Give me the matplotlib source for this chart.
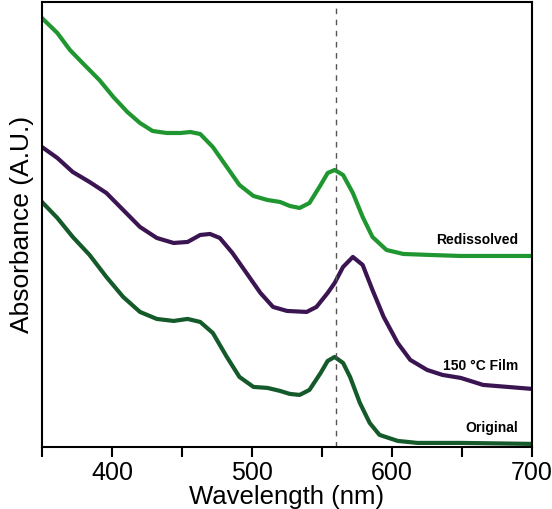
import numpy as np
import matplotlib
matplotlib.use("Agg")
import matplotlib.pyplot as plt
from matplotlib.ticker import MultipleLocator

plt.rcParams['font.family'] = ['Liberation Sans', 'DejaVu Sans']

# Redissolved spectrum (offset, a.u.)
wl_redis = [350, 361, 370, 379, 391, 401, 411, 420, 429, 439, 449, 456, 463, 472, 482,
            491, 501, 511, 520, 527, 534, 541, 549, 554, 559, 565, 572, 579, 586, 596,
            608, 627, 649, 700]
abs_redis = [4.29, 4.14, 3.97, 3.84, 3.67, 3.50, 3.35, 3.24, 3.16, 3.14, 3.14, 3.15,
             3.13, 3.00, 2.80, 2.62, 2.51, 2.47, 2.45, 2.41, 2.39, 2.44, 2.62, 2.74,
             2.77, 2.72, 2.54, 2.30, 2.10, 1.97, 1.93, 1.92, 1.91, 1.91]

# 150 °C film spectrum
wl_film = [350, 361, 372, 384, 396, 408, 420, 432, 444, 454, 463, 470, 477, 486, 496,
           506, 515, 525, 539, 546, 554, 559, 565, 572, 579, 586, 594, 604, 613, 625,
           636, 649, 665, 700]
abs_film = [3.00, 2.89, 2.75, 2.65, 2.54, 2.37, 2.20, 2.09, 2.04, 2.05, 2.12, 2.13,
            2.09, 1.94, 1.74, 1.54, 1.40, 1.36, 1.35, 1.40, 1.54, 1.64, 1.80, 1.90,
            1.82, 1.57, 1.30, 1.04, 0.87, 0.77, 0.72, 0.69, 0.62, 0.58]

# Original spectrum
wl_orig = [350, 361, 372, 384, 396, 408, 420, 432, 444, 454, 463, 472, 482, 491, 501,
           511, 520, 527, 534, 541, 549, 554, 559, 565, 570, 577, 584, 591, 604, 618,
           649, 700]
abs_orig = [2.45, 2.29, 2.10, 1.92, 1.70, 1.50, 1.35, 1.28, 1.26, 1.28, 1.25, 1.14,
            0.90, 0.70, 0.60, 0.59, 0.56, 0.53, 0.52, 0.57, 0.74, 0.86, 0.90, 0.84,
            0.70, 0.44, 0.24, 0.12, 0.06, 0.04, 0.04, 0.03]

peak_line = 560

fig = plt.figure(figsize=(5.52, 5.09), dpi=100)
ax = fig.add_axes([0.076, 0.122, 0.888, 0.874])

ax.plot(wl_redis, abs_redis, color='#1f9630', lw=3, solid_joinstyle='round')
ax.plot(wl_film, abs_film, color='#3b1552', lw=3, solid_joinstyle='round')
ax.plot(wl_orig, abs_orig, color='#155a2a', lw=3, solid_joinstyle='round')

ax.axvline(peak_line, color='#555555', lw=1, ls=(0, (4, 4)))

ax.text(690, 2.07, 'Redissolved', ha='right', va='center', fontsize=10, fontweight='bold')
ax.text(690, 0.81, '150 °C Film', ha='right', va='center', fontsize=10, fontweight='bold')
ax.text(690, 0.19, 'Original', ha='right', va='center', fontsize=10, fontweight='bold')

ax.set_xlim(350, 700)
ax.set_ylim(0, 4.45)
ax.xaxis.set_major_locator(MultipleLocator(100))
ax.xaxis.set_minor_locator(MultipleLocator(50))
ax.tick_params(axis='x', which='both', direction='out', length=7, width=1.5, labelsize=18)
ax.set_yticks([])
for s in ax.spines.values():
    s.set_linewidth(1.5)

ax.set_xlabel('Wavelength (nm)', fontsize=18.5, labelpad=0)
ax.set_ylabel('Absorbance (A.U.)', fontsize=19, labelpad=6)

fig.savefig('out.png', dpi=100)
